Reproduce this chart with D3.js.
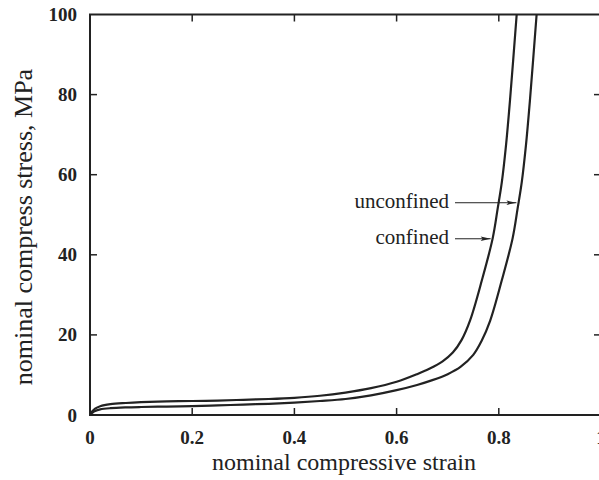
<!DOCTYPE html>
<html>
<head>
<meta charset="utf-8">
<script src="https://cdn.jsdelivr.net/npm/d3@7"></script>
<style>
  html, body { margin: 0; padding: 0; background: #fff; }
  svg { display: block; }
  text { font-family: "Liberation Serif", "Times New Roman", serif; fill: #222; }
</style>
</head>
<body>
<svg id="chart" width="599" height="480"></svg>
<script>
// Stress–strain curves (strain, MPa)
const confinedStrain = [0, 0.005, 0.01, 0.02, 0.04, 0.07, 0.1, 0.15, 0.2, 0.25, 0.3, 0.35, 0.4, 0.45, 0.5, 0.55, 0.6, 0.64, 0.665, 0.69, 0.71, 0.727, 0.744, 0.767, 0.788, 0.798, 0.806, 0.814, 0.822, 0.835];
const confinedStress = [0, 1.0, 1.6, 2.2, 2.7, 3.0, 3.2, 3.4, 3.5, 3.6, 3.8, 4.0, 4.3, 4.8, 5.6, 6.7, 8.3, 10.2, 11.6, 13.4, 15.6, 18.7, 23.7, 33.7, 44.1, 51.7, 58.2, 67.2, 78.7, 100];

const unconfinedStrain = [0, 0.005, 0.01, 0.02, 0.04, 0.07, 0.1, 0.15, 0.2, 0.25, 0.3, 0.35, 0.4, 0.45, 0.5, 0.55, 0.6, 0.64, 0.67, 0.7, 0.725, 0.75, 0.766, 0.783, 0.806, 0.827, 0.837, 0.845, 0.853, 0.861, 0.874];
const unconfinedStress = [0, 0.6, 1.0, 1.4, 1.7, 1.9, 2.0, 2.1, 2.2, 2.4, 2.6, 2.8, 3.1, 3.5, 4.0, 4.9, 6.2, 7.5, 8.7, 10.2, 12.0, 15.0, 18.4, 23.5, 33.7, 44.1, 51.7, 58.2, 67.2, 78.7, 100];

const xTicks = [0, 0.2, 0.4, 0.6, 0.8, 1];
const xTickLabels = ["0", "0.2", "0.4", "0.6", "0.8", "1"];
const yTicks = [0, 20, 40, 60, 80, 100];
const yTickLabels = ["0", "20", "40", "60", "80", "100"];

// Curve labels with the point (strain, stress) each arrow points at
const labelNames = ["unconfined", "confined"];
const labelTipStrain = [0.8365, 0.786];
const labelTipStress = [53, 44];

const svg = d3.select("#chart");
const x = d3.scaleLinear().domain([0, 1]).range([90, 601]);
const y = d3.scaleLinear().domain([0, 100]).range([415, 14.5]);

const ink = "#222";

const defs = svg.append("defs");
// Clip curves to the plot frame
defs.append("clipPath").attr("id", "plotClip")
  .append("rect").attr("x", x(0)).attr("y", y(100))
  .attr("width", x(1) - x(0)).attr("height", y(0) - y(100));

// Arrowhead
defs.append("marker")
  .attr("id", "arrow").attr("viewBox", "0 0 10 6")
  .attr("refX", 10).attr("refY", 3)
  .attr("markerWidth", 11).attr("markerHeight", 6)
  .attr("markerUnits", "userSpaceOnUse")
  .attr("orient", "auto")
  .append("path").attr("d", "M0,0.8 L10,3 L0,5.2 L2,3 Z").attr("fill", ink);

// Frame
svg.append("path")
  .attr("d", `M${x(0)},${y(0)} L${x(0)},${y(100)} L${x(1)},${y(100)} L${x(1)},${y(0)} Z`)
  .attr("fill", "none").attr("stroke", ink).attr("stroke-width", 2);

// Inward ticks on all four sides
const tl = 7;
const ticks = svg.append("g").attr("stroke", ink).attr("stroke-width", 1.5);
xTicks.slice(1, -1).forEach(t => {
  ticks.append("line").attr("x1", x(t)).attr("x2", x(t)).attr("y1", y(0)).attr("y2", y(0) - tl);
  ticks.append("line").attr("x1", x(t)).attr("x2", x(t)).attr("y1", y(100)).attr("y2", y(100) + tl);
});
yTicks.slice(1, -1).forEach(t => {
  ticks.append("line").attr("y1", y(t)).attr("y2", y(t)).attr("x1", x(0)).attr("x2", x(0) + tl);
  ticks.append("line").attr("y1", y(t)).attr("y2", y(t)).attr("x1", x(1)).attr("x2", x(1) - tl);
});

// Tick labels
svg.append("g").selectAll("text").data(xTicks).join("text")
  .attr("x", d => x(d)).attr("y", 444)
  .attr("text-anchor", "middle")
  .attr("font-weight", "bold").attr("font-size", 19)
  .text((d, i) => xTickLabels[i]);

svg.append("g").selectAll("text").data(yTicks).join("text")
  .attr("x", 77).attr("y", d => y(d) + 6.5)
  .attr("text-anchor", "end")
  .attr("font-weight", "bold").attr("font-size", 19)
  .text((d, i) => yTickLabels[i]);

// Axis titles
svg.append("text")
  .attr("x", 344).attr("y", 470)
  .attr("text-anchor", "middle").attr("font-size", 24)
  .text("nominal compressive strain");

svg.append("text")
  .attr("transform", "translate(32,227) rotate(-90)")
  .attr("text-anchor", "middle").attr("font-size", 26)
  .text("nominal compress stress, MPa");

// Curves
const line = d3.line()
  .x(d => x(d[0])).y(d => y(d[1]))
  .curve(d3.curveCatmullRom.alpha(0.5));

const curves = svg.append("g").attr("clip-path", "url(#plotClip)");
curves.append("path")
  .datum(d3.zip(confinedStrain, confinedStress))
  .attr("d", line).attr("fill", "none")
  .attr("stroke", ink).attr("stroke-width", 2.2);
curves.append("path")
  .datum(d3.zip(unconfinedStrain, unconfinedStress))
  .attr("d", line).attr("fill", "none")
  .attr("stroke", ink).attr("stroke-width", 2.2);

// Labels with arrows
const ann = svg.append("g");
labelNames.forEach((name, i) => {
  const tx = x(labelTipStrain[i]);
  const ty = y(labelTipStress[i]);
  ann.append("line")
    .attr("x1", 455).attr("y1", ty).attr("x2", tx - 1).attr("y2", ty)
    .attr("stroke", ink).attr("stroke-width", 1)
    .attr("marker-end", "url(#arrow)");
  ann.append("text")
    .attr("x", 449).attr("y", ty + 5)
    .attr("text-anchor", "end").attr("font-size", 21)
    .text(name);
});
</script>
</body>
</html>
